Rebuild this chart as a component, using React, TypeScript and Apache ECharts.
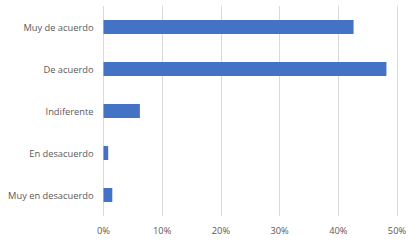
import React, { useEffect, useRef } from "react";
import * as echarts from "echarts";

const categories = ["Muy de acuerdo", "De acuerdo", "Indiferente", "En desacuerdo", "Muy en desacuerdo"];
const values = [42.6, 48.2, 6.2, 0.8, 1.5];
const tickMax = 50;
const tickInterval = 10;

export default function App() {
  const ref = useRef<HTMLDivElement>(null);
  useEffect(() => {
    const chart = echarts.init(ref.current!, null, { renderer: "svg" });
    const font = "'Open Sans', sans-serif";
    chart.setOption({
      animation: false,
      backgroundColor: "#ffffff",
      grid: { left: 103.5, right: 20, top: 6, bottom: 28, containLabel: false },
      xAxis: {
        type: "value",
        min: 0,
        max: tickMax,
        interval: tickInterval,
        axisLine: { show: false },
        axisTick: { show: false },
        splitLine: { show: true, lineStyle: { color: "#d9d9d9", width: 1 } },
        axisLabel: { formatter: "{value}%", color: "#595959", fontSize: 9.3, fontFamily: font, margin: 10 },
      },
      yAxis: {
        type: "category",
        data: categories,
        inverse: true,
        axisLine: { show: false },
        axisTick: { show: false },
        axisLabel: { color: "#595959", fontSize: 9.3, fontFamily: font, margin: 10 },
      },
      series: [
        {
          type: "bar",
          data: values,
          barWidth: 14,
          itemStyle: { color: "#4472C4" },
        },
      ],
    });
    return () => chart.dispose();
  }, []);
  return <div ref={ref} style={{ width: 417, height: 244, position: "absolute", left: 0, top: 0 }} />;
}
